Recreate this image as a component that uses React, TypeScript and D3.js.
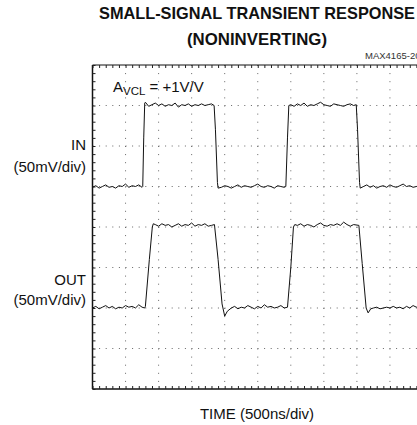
import * as d3 from "d3";
import { useEffect, useRef } from "react";

// scope graticule: 10 x 500ns, 8 x 50mV
const timeDivs = [0, 500, 1000, 1500, 2000, 2500, 3000, 3500, 4000, 4500, 5000];
const mvDivs = [-200, -150, -100, -50, 0, 50, 100, 150, 200];

// IN trace [ns, mV]
const inTrace: [number, number][] = [
  [0, 49], [50, 51], [100, 48], [150, 50], [200, 52], [250, 49], [300, 50], [350, 48],
  [400, 51], [450, 50], [500, 53], [550, 49], [600, 51], [650, 50], [700, 52], [750, 49],
  [760, 50], [775, 110], [790, 153],
  [800, 154], [850, 149], [900, 151], [950, 153], [1000, 150], [1050, 152], [1100, 149],
  [1150, 151], [1200, 150], [1250, 153], [1300, 148], [1350, 151], [1400, 150], [1450, 152],
  [1500, 149], [1550, 151], [1600, 150], [1650, 152], [1700, 150], [1750, 151], [1800, 152],
  [1840, 150], [1860, 120], [1890, 55], [1900, 48],
  [1950, 49], [2000, 51], [2050, 50], [2100, 48], [2150, 50], [2200, 52], [2250, 49],
  [2300, 51], [2350, 50], [2400, 49], [2450, 51], [2500, 53], [2550, 50], [2600, 49],
  [2650, 51], [2700, 50], [2750, 48], [2800, 51], [2850, 50], [2900, 49],
  [2925, 50], [2950, 110], [2970, 150],
  [3000, 151], [3050, 149], [3100, 152], [3150, 150], [3200, 153], [3250, 149], [3300, 151],
  [3350, 150], [3400, 152], [3450, 154], [3500, 151], [3550, 150], [3600, 149], [3650, 152],
  [3700, 151], [3750, 150], [3800, 149], [3850, 151], [3900, 152], [3950, 150], [3990, 151],
  [4010, 120], [4040, 55], [4050, 48],
  [4100, 50], [4150, 52], [4200, 49], [4250, 51], [4300, 48], [4350, 50], [4400, 51],
  [4450, 49], [4500, 52], [4550, 50], [4600, 49], [4650, 51], [4700, 53], [4750, 50],
  [4800, 51], [4850, 49], [4900, 50], [4950, 52], [5000, 51],
];

// OUT trace [ns, mV]
const outTrace: [number, number][] = [
  [0, -100], [50, -98], [100, -101], [150, -99], [200, -97], [250, -100], [300, -98],
  [350, -101], [400, -99], [450, -100], [500, -97], [550, -99], [600, -98], [650, -100],
  [700, -96], [750, -99], [790, -100],
  [800, -98], [860, -40], [905, 0], [920, 4],
  [950, 3], [1000, 1], [1050, 4], [1100, 2], [1150, 3], [1200, 0], [1250, 2], [1300, 4],
  [1350, 1], [1400, 3], [1450, 2], [1500, 5], [1550, 1], [1600, 3], [1650, 2], [1700, 4],
  [1750, 1], [1800, 2], [1845, 3],
  [1900, -40], [1960, -95], [2000, -110], [2040, -104],
  [2100, -100], [2150, -98], [2200, -101], [2250, -99], [2300, -100], [2350, -97],
  [2400, -99], [2450, -101], [2500, -98], [2550, -100], [2600, -96], [2650, -99],
  [2700, -98], [2750, -100], [2800, -99], [2850, -97], [2900, -100], [2950, -99],
  [3000, -50], [3040, 0], [3060, 3],
  [3100, 2], [3150, 4], [3200, 1], [3250, 3], [3300, 2], [3350, 0], [3400, 3], [3450, 5],
  [3500, 2], [3550, 1], [3600, 3], [3650, 2], [3700, 4], [3750, 2], [3800, 6], [3850, 3],
  [3900, 1], [3950, 3], [4030, 2],
  [4080, -45], [4140, -100], [4170, -106], [4210, -101],
  [4250, -100], [4300, -99], [4350, -101], [4400, -100], [4450, -99], [4500, -100],
  [4550, -98], [4600, -100], [4650, -99], [4700, -101], [4750, -98], [4800, -100],
  [4850, -97], [4900, -99], [4950, -96], [5000, -100],
];

const W = 417;
const H = 425;
const font = "'Liberation Sans', Arial, Helvetica, sans-serif";

export default function App() {
  const gLeft = useRef<SVGGElement>(null);
  const gTop = useRef<SVGGElement>(null);
  const gBottom = useRef<SVGGElement>(null);

  const x = d3.scaleLinear().domain([0, 5000]).range([92.5, 423]);
  const y = d3.scaleLinear().domain([-200, 200]).range([389, 65]);

  const line = d3
    .line<[number, number]>()
    .x((d) => x(d[0]))
    .y((d) => y(d[1]));

  const minorMv = d3.range(-200, 201, 10);
  const minorT = d3.range(0, 5001, 100);

  useEffect(() => {
    const strip = (g: d3.Selection<SVGGElement, unknown, null, undefined>) => {
      g.select(".domain").remove();
      g.selectAll("line").attr("stroke", "#222");
    };
    d3.select(gLeft.current!)
      .call(d3.axisLeft(y).tickValues(minorMv).tickSize(-3).tickFormat(() => ""))
      .call(strip);
    d3.select(gTop.current!)
      .call(d3.axisTop(x).tickValues(minorT).tickSize(-3).tickFormat(() => ""))
      .call(strip);
    d3.select(gBottom.current!)
      .call(d3.axisBottom(x).tickValues(minorT).tickSize(-3).tickFormat(() => ""))
      .call(strip);
  }, []);

  return (
    <div style={{ position: "fixed", left: 0, top: 0 }}>
      <svg width={W} height={H} viewBox={`0 0 ${W} ${H}`} style={{ display: "block", background: "#fff" }}>
        <g fontFamily={font} fill="#111">
          <text x={257} y={19} textAnchor="middle" fontWeight="bold" fontSize={17} textLength={316} lengthAdjust="spacingAndGlyphs">
            SMALL-SIGNAL TRANSIENT RESPONSE
          </text>
          <text x={257} y={45} textAnchor="middle" fontWeight="bold" fontSize={17} textLength={140} lengthAdjust="spacingAndGlyphs">
            (NONINVERTING)
          </text>
          <text x={365} y={59} fontSize={9.5} fill="#333">MAX4165-20</text>
        </g>

        {/* grid */}
        <g stroke="#666" strokeWidth={1}>
          {timeDivs.slice(1, -1).map((t) => (
            <line key={"v" + t} x1={x(t)} x2={x(t)} y1={y(200)} y2={y(-200)} strokeDasharray="1,7.1" />
          ))}
          {mvDivs.slice(1, -1).map((v) => (
            <line key={"h" + v} x1={x(0)} x2={x(5000)} y1={y(v)} y2={y(v)} strokeDasharray="1,5.6" />
          ))}
        </g>

        {/* frame */}
        <g stroke="#111" fill="none">
          <line x1={x(0)} x2={x(0)} y1={y(200)} y2={y(-200)} strokeWidth={1.5} />
          <line x1={x(0)} x2={x(5000)} y1={y(200)} y2={y(200)} strokeWidth={1} />
          <line x1={x(0)} x2={x(5000)} y1={y(-200)} y2={y(-200)} strokeWidth={1.5} />
        </g>
        <g ref={gLeft} transform={`translate(${x(0)},0)`} />
        <g ref={gTop} transform={`translate(0,${y(200)})`} />
        <g ref={gBottom} transform={`translate(0,${y(-200)})`} />

        {/* traces */}
        <g fill="none" stroke="#111" strokeWidth={1} strokeLinejoin="round">
          <path d={line(inTrace) ?? ""} />
          <path d={line(outTrace) ?? ""} />
        </g>

        <g fontFamily={font} fill="#111" fontSize={15}>
          <text x={113} y={92}>
            A<tspan fontSize={11.5} dy={3}>VCL</tspan>
            <tspan dy={-3}> = +1V/V</tspan>
          </text>
          <text x={86} y={150} textAnchor="end">IN</text>
          <text x={86} y={172} textAnchor="end">(50mV/div)</text>
          <text x={86} y={285} textAnchor="end">OUT</text>
          <text x={86} y={305} textAnchor="end">(50mV/div)</text>
          <text x={257} y={419} textAnchor="middle">TIME (500ns/div)</text>
        </g>
      </svg>
    </div>
  );
}
